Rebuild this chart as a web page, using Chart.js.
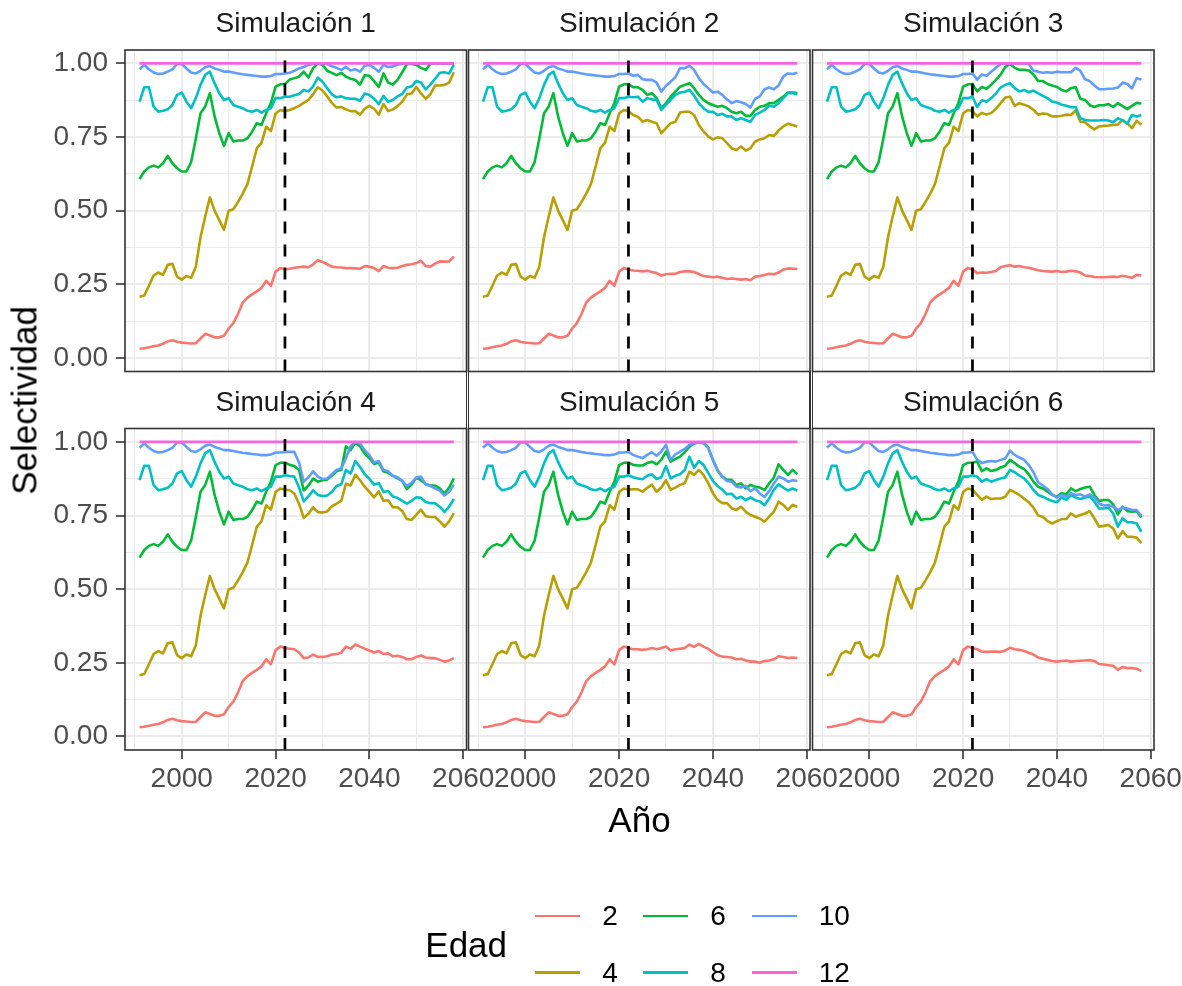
<!DOCTYPE html>
<html lang="es">
<head>
<meta charset="utf-8">
<title>Selectividad por edad</title>
<script src="https://cdn.jsdelivr.net/npm/chart.js@4.4.1/dist/chart.umd.min.js"></script>
<style>
  html, body { margin: 0; padding: 0; background: #ffffff; }
  #fig { position: relative; width: 1182px; height: 986px; overflow: hidden; background: #ffffff;
         font-family: "Liberation Sans", Arial, Helvetica, sans-serif; }
  #fig canvas { position: absolute; left: 0; top: 0; }
  .txt { position: absolute; white-space: nowrap; }
  .strip { font-size: 28px; line-height: 28px; color: #1a1a1a; text-align: center; }
  .title { font-size: 35px; line-height: 35px; color: #000000; }
  .lab { font-size: 28px; line-height: 28px; color: #000000; }
  .key { position: absolute; height: 2.8px; }
  .sep { position: absolute; width: 1.5px; background: #333333; }
</style>
</head>
<body>
<div id="fig"></div>
<script>
// ---- data -------------------------------------------------------------
const years = [1991,1992,1993,1994,1995,1996,1997,1998,1999,2000,2001,2002,2003,2004,2005,2006,2007,
               2008,2009,2010,2011,2012,2013,2014,2015,2016,2017,2018,2019,2020,2021,2022,2023,2024,
               2025,2026,2027,2028,2029,2030,2031,2032,2033,2034,2035,2036,2037,2038,2039,2040,2041,
               2042,2043,2044,2045,2046,2047,2048,2049,2050,2051,2052,2053,2054,2055,2056,2057,2058];

// historical estimates 1991-2022 (shared by every simulation)
const hist2  = [0.031,0.033,0.036,0.040,0.042,0.048,0.056,0.060,0.055,0.052,0.051,0.049,0.050,0.066,0.082,0.076,
                0.070,0.070,0.075,0.100,0.118,0.150,0.188,0.205,0.216,0.226,0.238,0.262,0.245,0.293,0.305,0.300];
const hist4  = [0.208,0.212,0.245,0.280,0.290,0.282,0.316,0.320,0.276,0.266,0.278,0.272,0.310,0.410,0.480,0.545,
                0.500,0.468,0.435,0.500,0.505,0.530,0.558,0.590,0.650,0.712,0.730,0.785,0.770,0.830,0.842,0.838];
const hist6  = [0.607,0.633,0.647,0.653,0.647,0.661,0.686,0.661,0.644,0.633,0.633,0.665,0.745,0.831,0.854,0.899,
                0.820,0.763,0.720,0.763,0.735,0.738,0.738,0.746,0.768,0.797,0.791,0.831,0.865,0.921,0.929,0.930];
const hist8  = [0.870,0.919,0.919,0.853,0.836,0.839,0.844,0.859,0.893,0.901,0.870,0.848,0.882,0.927,0.961,0.972,
                0.932,0.899,0.876,0.882,0.859,0.853,0.848,0.839,0.836,0.842,0.833,0.842,0.848,0.882,0.882,0.887];
const hist10 = [0.980,0.995,0.980,0.969,0.964,0.966,0.972,0.980,0.998,0.998,0.983,0.969,0.966,0.975,0.987,0.991,
                0.983,0.978,0.972,0.972,0.969,0.966,0.963,0.961,0.959,0.957,0.955,0.955,0.957,0.964,0.964,0.966];
// age 12 is fully selected over the whole period
const age12  = [1,1,1,1,1,1,1,1,1,1,1,1,1,1,1,1,1,
                1,1,1,1,1,1,1,1,1,1,1,1,1,1,1,1,1,
                1,1,1,1,1,1,1,1,1,1,1,1,1,1,1,1,1,
                1,1,1,1,1,1,1,1,1,1,1,1,1,1,1,1,1];

// projected selectivity 2023-2058, one array per simulation and age
const sim1Age2  = [0.303,0.306,0.308,0.310,0.308,0.318,0.332,0.326,0.318,0.310,0.308,0.307,0.305,0.305,0.304,0.303,0.312,0.310,
                   0.305,0.295,0.312,0.306,0.305,0.306,0.312,0.316,0.318,0.322,0.330,0.312,0.310,0.320,0.328,0.327,0.328,0.344];
const sim1Age4  = [0.842,0.848,0.856,0.866,0.876,0.895,0.919,0.908,0.888,0.866,0.850,0.852,0.844,0.838,0.838,0.826,0.846,0.856,
                   0.846,0.826,0.862,0.838,0.844,0.855,0.870,0.895,0.898,0.920,0.898,0.880,0.895,0.925,0.925,0.927,0.935,0.970];
const sim1Age6  = [0.945,0.950,0.955,0.972,0.952,0.984,1.000,0.995,0.975,0.968,0.960,0.968,0.955,0.948,0.944,0.928,0.960,0.958,
                   0.940,0.920,0.966,0.935,0.928,0.944,0.970,0.998,0.998,0.995,0.985,0.978,0.998,1.000,1.000,1.000,1.000,1.000];
const sim1Age8  = [0.887,0.892,0.896,0.910,0.905,0.922,0.952,0.938,0.916,0.895,0.885,0.888,0.882,0.880,0.880,0.873,0.898,0.893,
                   0.880,0.862,0.890,0.870,0.876,0.888,0.896,0.918,0.922,0.940,0.935,0.912,0.928,0.948,0.968,0.970,0.966,0.995];
const sim1Age10 = [0.968,0.975,0.983,0.988,0.995,0.998,1.000,1.000,0.998,0.990,0.985,0.978,0.988,0.976,0.980,0.972,0.992,0.995,
                   0.985,0.972,0.995,0.988,0.990,0.995,1.000,1.000,1.000,1.000,1.000,1.000,1.000,1.000,1.000,1.000,1.000,1.000];

const sim2Age2  = [0.297,0.296,0.294,0.296,0.292,0.288,0.280,0.284,0.286,0.286,0.292,0.294,0.294,0.292,0.285,0.278,0.276,0.274,
                   0.276,0.272,0.268,0.270,0.268,0.266,0.268,0.264,0.276,0.278,0.282,0.286,0.284,0.290,0.300,0.304,0.303,0.302];
const sim2Age4  = [0.825,0.819,0.802,0.808,0.802,0.797,0.763,0.780,0.797,0.802,0.833,0.836,0.836,0.825,0.791,0.769,0.752,0.742,
                   0.749,0.746,0.729,0.712,0.706,0.718,0.704,0.712,0.735,0.742,0.746,0.757,0.754,0.772,0.786,0.795,0.791,0.786];
const sim2Age6  = [0.919,0.919,0.910,0.893,0.899,0.882,0.848,0.865,0.887,0.904,0.921,0.927,0.933,0.916,0.893,0.876,0.865,0.859,
                   0.853,0.856,0.848,0.836,0.831,0.836,0.822,0.822,0.842,0.853,0.856,0.865,0.865,0.876,0.887,0.901,0.901,0.899];
const sim2Age8  = [0.885,0.887,0.870,0.882,0.878,0.876,0.842,0.859,0.876,0.893,0.901,0.904,0.910,0.890,0.865,0.848,0.836,0.836,
                   0.825,0.829,0.820,0.820,0.808,0.814,0.808,0.802,0.825,0.833,0.842,0.856,0.853,0.865,0.882,0.899,0.899,0.895];
const sim2Age10 = [0.958,0.961,0.946,0.944,0.944,0.935,0.904,0.924,0.938,0.953,0.984,0.984,0.992,0.978,0.950,0.930,0.916,0.901,
                   0.904,0.893,0.878,0.865,0.872,0.868,0.862,0.850,0.880,0.888,0.912,0.918,0.912,0.925,0.955,0.966,0.964,0.968];

const sim3Age2  = [0.288,0.290,0.289,0.292,0.295,0.308,0.312,0.315,0.310,0.312,0.308,0.306,0.302,0.298,0.295,0.294,0.293,0.295,
                   0.292,0.293,0.296,0.294,0.290,0.280,0.278,0.275,0.274,0.274,0.275,0.276,0.275,0.279,0.276,0.272,0.282,0.280];
const sim3Age4  = [0.820,0.832,0.826,0.832,0.845,0.865,0.884,0.887,0.856,0.865,0.860,0.854,0.842,0.826,0.830,0.828,0.820,0.820,
                   0.822,0.826,0.825,0.840,0.802,0.800,0.786,0.776,0.786,0.788,0.789,0.791,0.792,0.808,0.797,0.780,0.805,0.792];
const sim3Age6  = [0.905,0.920,0.914,0.928,0.944,0.962,0.988,0.998,0.985,0.978,0.978,0.976,0.962,0.940,0.940,0.930,0.925,0.920,
                   0.910,0.905,0.916,0.920,0.880,0.876,0.858,0.852,0.858,0.858,0.862,0.852,0.865,0.855,0.845,0.856,0.866,0.864];
const sim3Age8  = [0.852,0.875,0.870,0.882,0.898,0.918,0.927,0.933,0.916,0.905,0.910,0.902,0.908,0.898,0.890,0.882,0.870,0.867,
                   0.860,0.856,0.851,0.852,0.814,0.808,0.806,0.806,0.806,0.808,0.806,0.800,0.814,0.806,0.795,0.825,0.820,0.825];
const sim3Age10 = [0.945,0.962,0.958,0.972,0.985,0.998,1.000,1.000,1.000,1.000,1.000,0.998,0.975,0.972,0.968,0.970,0.968,0.972,
                   0.970,0.970,0.970,0.985,0.975,0.946,0.940,0.925,0.912,0.912,0.914,0.915,0.918,0.935,0.930,0.915,0.950,0.945];

const sim4Age2  = [0.298,0.296,0.285,0.266,0.268,0.278,0.270,0.270,0.272,0.278,0.280,0.284,0.305,0.298,0.312,0.305,0.298,0.292,
                   0.285,0.290,0.280,0.282,0.272,0.274,0.270,0.262,0.262,0.270,0.275,0.268,0.266,0.266,0.260,0.254,0.258,0.266];
const sim4Age4  = [0.836,0.825,0.790,0.742,0.756,0.778,0.762,0.760,0.764,0.782,0.790,0.800,0.858,0.852,0.888,0.870,0.848,0.830,
                   0.812,0.832,0.800,0.802,0.778,0.778,0.765,0.738,0.735,0.752,0.770,0.748,0.745,0.745,0.730,0.712,0.730,0.758];
const sim4Age6  = [0.922,0.918,0.905,0.835,0.852,0.875,0.865,0.870,0.872,0.885,0.900,0.905,0.985,0.972,0.998,0.985,0.960,0.945,
                   0.925,0.930,0.900,0.895,0.885,0.876,0.868,0.840,0.855,0.878,0.870,0.856,0.852,0.852,0.842,0.825,0.845,0.876];
const sim4Age8  = [0.884,0.882,0.845,0.798,0.815,0.836,0.820,0.816,0.818,0.830,0.850,0.856,0.905,0.893,0.935,0.915,0.890,0.875,
                   0.855,0.860,0.830,0.833,0.815,0.810,0.800,0.790,0.800,0.812,0.810,0.796,0.792,0.792,0.780,0.762,0.780,0.806];
const sim4Age10 = [0.966,0.966,0.930,0.865,0.880,0.900,0.882,0.874,0.876,0.890,0.905,0.910,0.945,0.985,1.000,0.995,0.972,0.955,
                   0.930,0.935,0.905,0.900,0.885,0.880,0.868,0.850,0.862,0.880,0.882,0.856,0.850,0.842,0.835,0.818,0.830,0.855];

const sim5Age2  = [0.296,0.296,0.294,0.296,0.300,0.296,0.300,0.305,0.292,0.296,0.298,0.300,0.312,0.304,0.314,0.305,0.298,0.286,
                   0.276,0.271,0.270,0.268,0.262,0.264,0.258,0.254,0.254,0.250,0.256,0.258,0.262,0.272,0.270,0.266,0.268,0.266];
const sim5Age4  = [0.839,0.839,0.831,0.844,0.855,0.831,0.845,0.870,0.837,0.845,0.854,0.860,0.899,0.888,0.905,0.888,0.860,0.826,
                   0.803,0.792,0.792,0.775,0.769,0.780,0.763,0.752,0.746,0.740,0.729,0.746,0.763,0.797,0.786,0.769,0.786,0.780];
const sim5Age6  = [0.922,0.920,0.920,0.928,0.933,0.924,0.939,0.967,0.933,0.942,0.950,0.965,0.984,0.995,0.999,0.997,0.981,0.939,
                   0.902,0.882,0.871,0.871,0.854,0.859,0.842,0.854,0.848,0.845,0.837,0.859,0.879,0.924,0.905,0.888,0.905,0.890];
const sim5Age8  = [0.880,0.876,0.873,0.885,0.890,0.874,0.880,0.918,0.876,0.885,0.890,0.905,0.950,0.912,0.935,0.922,0.895,0.868,
                   0.850,0.838,0.822,0.824,0.808,0.814,0.802,0.812,0.802,0.798,0.785,0.808,0.838,0.856,0.845,0.835,0.842,0.835];
const sim5Age10 = [0.956,0.950,0.945,0.956,0.965,0.953,0.967,0.990,0.939,0.958,0.967,0.976,0.990,0.995,0.999,0.995,0.979,0.939,
                   0.905,0.882,0.867,0.865,0.848,0.845,0.851,0.833,0.842,0.825,0.813,0.833,0.859,0.882,0.876,0.865,0.870,0.867];

const sim6Age2  = [0.296,0.288,0.287,0.288,0.288,0.287,0.292,0.301,0.296,0.294,0.290,0.284,0.278,0.268,0.264,0.260,0.256,0.254,
                   0.256,0.258,0.254,0.256,0.257,0.258,0.259,0.256,0.246,0.244,0.242,0.240,0.226,0.236,0.232,0.232,0.230,0.222];
const sim6Age4  = [0.820,0.803,0.814,0.806,0.808,0.808,0.814,0.837,0.829,0.820,0.808,0.795,0.777,0.750,0.746,0.731,0.723,0.731,
                   0.738,0.738,0.757,0.746,0.752,0.757,0.765,0.740,0.712,0.715,0.718,0.706,0.672,0.697,0.678,0.678,0.675,0.656];
const sim6Age6  = [0.933,0.901,0.910,0.901,0.905,0.913,0.919,0.939,0.928,0.916,0.908,0.890,0.865,0.848,0.842,0.831,0.820,0.814,
                   0.826,0.822,0.842,0.833,0.840,0.845,0.848,0.820,0.799,0.803,0.803,0.788,0.754,0.780,0.765,0.763,0.765,0.743];
const sim6Age8  = [0.882,0.865,0.874,0.865,0.871,0.876,0.879,0.905,0.897,0.886,0.876,0.859,0.837,0.820,0.814,0.806,0.799,0.795,
                   0.811,0.803,0.820,0.811,0.806,0.811,0.814,0.797,0.774,0.774,0.777,0.757,0.712,0.741,0.727,0.727,0.723,0.695];
const sim6Age10 = [0.940,0.928,0.933,0.935,0.933,0.939,0.944,0.970,0.956,0.947,0.939,0.922,0.897,0.863,0.852,0.840,0.822,0.811,
                   0.820,0.814,0.826,0.820,0.822,0.814,0.822,0.811,0.791,0.784,0.786,0.780,0.769,0.777,0.774,0.769,0.769,0.749];

const ageLabels   = ['2', '4', '6', '8', '10', '12'];
const ageColors   = ['#F8766D', '#B79F00', '#00BA38', '#00BFC4', '#619CFF', '#F564E3'];
const panelTitles = ['Simulación 1', 'Simulación 2', 'Simulación 3', 'Simulación 4', 'Simulación 5', 'Simulación 6'];
const xTickValues = [1990, 2000, 2010, 2020, 2030, 2040, 2050, 2060];
const xLabelled   = [2000, 2020, 2040, 2060];
const yTickValues = [0, 0.125, 0.25, 0.375, 0.5, 0.625, 0.75, 0.875, 1];
const yLabelled   = [0, 0.25, 0.5, 0.75, 1];
const referenceYear = 2022;   // last assessment year, marked with a dashed line
const xTitle = 'Año';
const yTitle = 'Selectividad';
const legendTitle = 'Edad';

const history = [hist2, hist4, hist6, hist8, hist10];
const projections = [
  [sim1Age2, sim1Age4, sim1Age6, sim1Age8, sim1Age10],
  [sim2Age2, sim2Age4, sim2Age6, sim2Age8, sim2Age10],
  [sim3Age2, sim3Age4, sim3Age6, sim3Age8, sim3Age10],
  [sim4Age2, sim4Age4, sim4Age6, sim4Age8, sim4Age10],
  [sim5Age2, sim5Age4, sim5Age6, sim5Age8, sim5Age10],
  [sim6Age2, sim6Age4, sim6Age6, sim6Age8, sim6Age10]
];

// ---- layout -----------------------------------------------------------
const CANVAS_W = 1240, CANVAS_H = 986;
const colLeft = [125, 468.5, 812.5];
const rowTop  = [50, 428.5];
const panelW = 341.5, panelH = 321.5;
const xRange = [1987.9, 2060.7];
const yRange = [-0.046, 1.0455];
const FONT = "'Liberation Sans', Arial, Helvetica, sans-serif";
const GRID = '#EBEBEB';
const INK  = '#333333';
const TICK_PX = 28;

Chart.defaults.font.family = FONT;

const near = (list, v) => list.some(m => Math.abs(m - v) < 1e-9);

function seriesValues(sim, a) {
  return a < history.length ? history[a].concat(projections[sim][a]) : age12;
}

// dashed reference line and panel frame, drawn over the lines
const panelFrame = {
  id: 'panelFrame',
  afterDatasetsDraw(chart) {
    const { ctx, chartArea: a, scales } = chart;
    const px = scales.x.getPixelForValue(referenceYear);
    ctx.save();
    ctx.strokeStyle = '#000000';
    ctx.lineWidth = 2.7;
    ctx.setLineDash([12, 11]);
    ctx.beginPath();
    ctx.moveTo(px, a.bottom);
    ctx.lineTo(px, a.top);
    ctx.stroke();
    ctx.setLineDash([]);
    ctx.strokeStyle = INK;
    ctx.lineWidth = 1.6;
    ctx.strokeRect(a.left, a.top, a.right - a.left, a.bottom - a.top);
    ctx.restore();
  }
};

const fig = document.getElementById('fig');

function addText(cls, text, css) {
  const d = document.createElement('div');
  d.className = 'txt ' + cls;
  d.textContent = text;
  Object.assign(d.style, css);
  fig.appendChild(d);
  return d;
}

panelTitles.forEach((title, p) => {
  const r = Math.floor(p / 3), c = p % 3;
  const left = colLeft[c], top = rowTop[r];
  const right = left + panelW, bottom = top + panelH;
  const showY = c === 0, showX = r === 1;
  const xAxisH = showX ? 60 : 0;

  const canvas = document.createElement('canvas');
  canvas.width = CANVAS_W;
  canvas.height = CANVAS_H;
  canvas.style.width = CANVAS_W + 'px';
  canvas.style.height = CANVAS_H + 'px';
  fig.appendChild(canvas);

  const datasets = ageLabels.map((lab, a) => {
    const vals = seriesValues(p, a);
    return {
      label: lab,
      data: years.map((yr, i) => ({ x: yr, y: vals[i] })),
      borderColor: ageColors[a],
      backgroundColor: ageColors[a],
      borderWidth: 2.6,
      pointRadius: 0,
      tension: 0,
      fill: false,
      borderJoinStyle: 'round',
      borderCapStyle: 'butt',
      order: ageLabels.length - a
    };
  });

  new Chart(canvas, {
    type: 'line',
    data: { datasets },
    options: {
      responsive: false,
      animation: false,
      events: [],
      devicePixelRatio: 1,
      layout: {
        padding: {
          left: showY ? 0 : left,
          right: CANVAS_W - right,
          top: top,
          bottom: CANVAS_H - bottom - xAxisH
        }
      },
      plugins: { legend: { display: false }, tooltip: { enabled: false }, title: { display: false } },
      scales: {
        x: {
          type: 'linear',
          min: xRange[0],
          max: xRange[1],
          afterBuildTicks: s => { s.ticks = xTickValues.map(v => ({ value: v })); },
          afterFit: s => { s.height = xAxisH; },
          border: { display: false },
          grid: {
            color: GRID,
            lineWidth: ctx => (ctx.tick && near(xLabelled, ctx.tick.value)) ? 2 : 1,
            drawTicks: showX,
            tickLength: 9,
            tickWidth: 1.6,
            tickColor: ctx => (ctx.tick && near(xLabelled, ctx.tick.value)) ? INK : 'rgba(0,0,0,0)'
          },
          ticks: {
            display: showX,
            autoSkip: false,
            maxRotation: 0,
            minRotation: 0,
            padding: 3,
            color: '#4D4D4D',
            font: { size: TICK_PX, family: FONT },
            callback: v => near(xLabelled, v) ? String(v) : ''
          }
        },
        y: {
          type: 'linear',
          min: yRange[0],
          max: yRange[1],
          afterBuildTicks: s => { s.ticks = yTickValues.map(v => ({ value: v })); },
          afterFit: s => { s.width = showY ? left : 0; },
          border: { display: false },
          grid: {
            color: GRID,
            lineWidth: ctx => (ctx.tick && near(yLabelled, ctx.tick.value)) ? 2 : 1,
            drawTicks: showY,
            tickLength: 9,
            tickWidth: 1.6,
            tickColor: ctx => (ctx.tick && near(yLabelled, ctx.tick.value)) ? INK : 'rgba(0,0,0,0)'
          },
          ticks: {
            display: showY,
            autoSkip: false,
            padding: 8,
            color: '#4D4D4D',
            font: { size: TICK_PX, family: FONT },
            callback: v => near(yLabelled, v) ? v.toFixed(2) : ''
          }
        }
      }
    },
    plugins: [panelFrame]
  });

  // facet strip label
  addText('strip', title, {
    left: left + 'px', width: panelW + 'px',
    top: (r === 0 ? 9.1 : 387.6) + 'px'
  });
});

// short panel edges running through the lower strip band
[465.75, 467.75, 809.25, 811.75].forEach(x => {
  const d = document.createElement('div');
  d.className = 'sep';
  Object.assign(d.style, { left: x + 'px', top: '371px', height: '57.5px' });
  fig.appendChild(d);
});

// axis titles
addText('title', xTitle, { left: (639.5 - 200) + 'px', width: '400px', textAlign: 'center', top: '801.9px' });
addText('title', yTitle, {
  left: (24 - 200) + 'px', width: '400px', textAlign: 'center', top: (400 - 17.5) + 'px',
  transform: 'rotate(-90deg)', transformOrigin: '50% 50%'
});

// legend
addText('title', legendTitle, { left: '425.3px', top: '926.9px' });
const keyX   = [535, 643, 752];
const labX   = [602.3, 710.3, 818.7];
const rowCY  = [916, 972.7];
ageLabels.forEach((lab, a) => {
  const col = Math.floor(a / 2), row = a % 2;
  const k = document.createElement('div');
  k.className = 'key';
  Object.assign(k.style, {
    left: keyX[col] + 'px', width: '44.5px',
    top: (rowCY[row] - 1.4) + 'px', background: ageColors[a]
  });
  fig.appendChild(k);
  addText('lab', lab, { left: labX[col] + 'px', top: (rowCY[row] - 13.7) + 'px' });
});
</script>
</body>
</html>
